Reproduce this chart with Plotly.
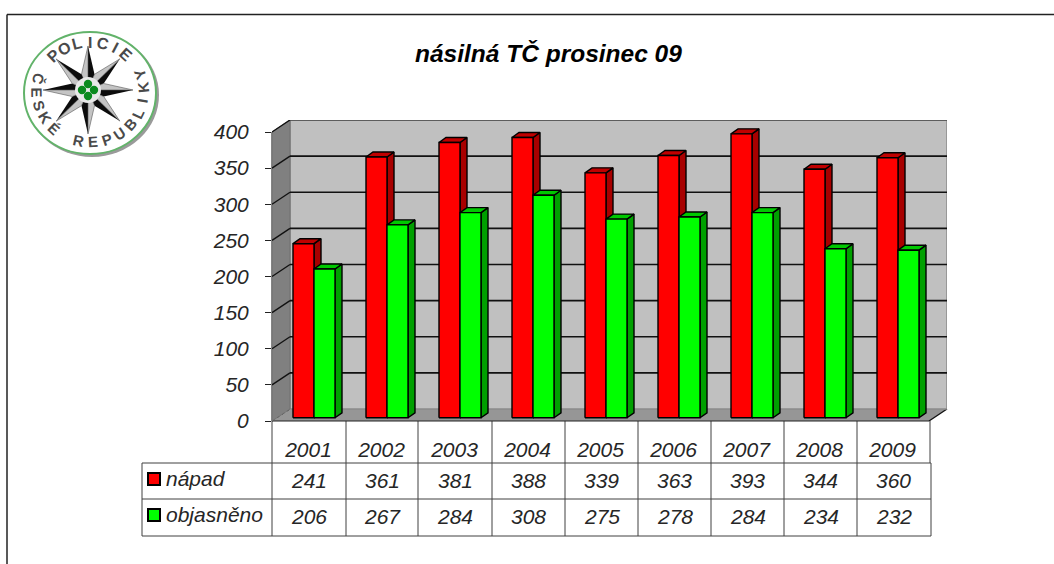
import math
import plotly.graph_objects as go

# ---- data ----
years = ["2001", "2002", "2003", "2004", "2005", "2006", "2007", "2008", "2009"]
napad = [241, 361, 381, 388, 339, 363, 393, 344, 360]
objasneno = [206, 267, 284, 308, 275, 278, 284, 234, 232]
y_ticks = [0, 50, 100, 150, 200, 250, 300, 350, 400]
title_text = "násilná TČ prosinec 09"
series_names = ["nápad", "objasněno"]

# ---- layout geometry (pixels of the page) ----
W, H = 1054, 564
L, R, T, B = 272, 947, 120, 421          # plot rectangle
PX_X = 73.0                              # px per category
PX_Y = 289 / 400                         # px per value unit
XMAX = (R - L) / PX_X
YMAX = (B - T) / PX_Y
WALL_DX, WALL_DY = 18 / PX_X, 12 / PX_Y  # depth of the chart box
BAR_DX, BAR_DY = 7 / PX_X, 5 / PX_Y      # depth of a bar
BASE = 3.2 / PX_Y                        # bar base above the front edge
BAR_W = 21 / PX_X
BAR_OFF = 21 / PX_X
FONT = "Liberation Sans"
INK = "#262626"


def px(x, y):
    return (x - L) / (R - L), (B - y) / (B - T)


def path(points):
    out = []
    for i, (x, y) in enumerate(points):
        a, b = px(x, y)
        out.append(("M" if i == 0 else "L") + f"{a:.5f},{b:.5f}")
    return " ".join(out) + " Z"


shapes, annos = [], []


def rect_d(points, fill, line=None, width=1):
    """filled polygon given in axis units"""
    d = " ".join(("M" if i == 0 else "L") + f"{x:.4f},{y:.4f}" for i, (x, y) in enumerate(points)) + " Z"
    shapes.append(dict(type="path", xref="x", yref="y", path=d, fillcolor=fill, layer="below",
                       line=dict(color=line or fill, width=width)))


def seg_p(x0, y0, x1, y1, color="#404040", width=1, dash="solid"):
    a0, b0 = px(x0, y0)
    a1, b1 = px(x1, y1)
    shapes.append(dict(type="line", xref="paper", yref="paper", x0=a0, y0=b0, x1=a1, y1=b1,
                       layer="below", line=dict(color=color, width=width, dash=dash)))


def poly_p(points, fill, line=None, width=0):
    shapes.append(dict(type="path", xref="paper", yref="paper", path=path(points), fillcolor=fill,
                       layer="below", line=dict(color=line or fill, width=width)))


def circle_p(cx, cy, rx, ry, fill, line=None, width=0):
    a0, b0 = px(cx - rx, cy + ry)
    a1, b1 = px(cx + rx, cy - ry)
    shapes.append(dict(type="circle", xref="paper", yref="paper", x0=a0, y0=b0, x1=a1, y1=b1,
                       fillcolor=fill, layer="below", line=dict(color=line or fill, width=width)))


def text_p(x, y, s, size=21, **kw):
    a, b = px(x, y)
    font = dict(family=FONT, size=size, color=kw.pop("color", INK), style=kw.pop("style", "italic"),
                weight=kw.pop("weight", 400))
    annos.append(dict(xref="paper", yref="paper", x=a, y=b, text=s, showarrow=False, font=font,
                      xanchor=kw.pop("xanchor", "center"), yanchor="middle",
                      textangle=kw.pop("textangle", 0)))


# ---- outer frame ----
seg_p(7, 14.5, W, 14.5, "#222222", 1.5)
seg_p(7, 14.5, 7, H, "#222222", 1.5)

# ---- 3D box ----
rect_d([(WALL_DX, WALL_DY), (XMAX, WALL_DY), (XMAX, YMAX), (WALL_DX, YMAX)], "#c0c0c0", "#8a8a8a", 1.5)
rect_d([(0, 0), (WALL_DX, WALL_DY), (WALL_DX, YMAX), (0, 400)], "#808080", "#707070", 1)
poly_p([(L, B), (L + 18, B - 12), (R, B - 12), (R - 18, B)], "#969696")
for t in y_ticks:
    if t == 0:
        continue
    yb = t + WALL_DY
    shapes.append(dict(type="line", xref="x", yref="y", x0=0, y0=t, x1=WALL_DX, y1=yb, layer="below",
                       line=dict(color="#111111", width=1.4)))
    shapes.append(dict(type="line", xref="x", yref="y", x0=WALL_DX, y0=yb, x1=XMAX, y1=yb, layer="below",
                       line=dict(color="#4a4a4a" if t == 400 else "#111111", width=1.6)))
seg_p(L, B, L + 18, B - 12, "#111111", 1, "dot")
seg_p(R - 18, B, R, B - 12, "#111111", 1.4)
seg_p(L, B, L, 132, "#333333", 1.2)


# ---- bars (drawn as polygons so that each series overlaps correctly) ----
def bars(values, offset, front, side, top):
    xs_f, ys_f, xs_s, ys_s, xs_t, ys_t = [], [], [], [], [], []
    for i, v in enumerate(values):
        x0 = i + offset
        x1 = x0 + BAR_W
        y0 = BASE
        y1 = BASE + v
        xs_f += [x0, x1, x1, x0, x0, None]
        ys_f += [y0, y0, y1, y1, y0, None]
        xs_s += [x1, x1 + BAR_DX, x1 + BAR_DX, x1, x1, None]
        ys_s += [y0, y0 + BAR_DY, y1 + BAR_DY, y1, y0, None]
        xs_t += [x0, x1, x1 + BAR_DX, x0 + BAR_DX, x0, None]
        ys_t += [y1, y1, y1 + BAR_DY, y1 + BAR_DY, y1, None]
    out = []
    for xs, ys, c in ((xs_s, ys_s, side), (xs_t, ys_t, top), (xs_f, ys_f, front)):
        out.append(go.Scatter(x=xs, y=ys, mode="lines", fill="toself", fillcolor=c,
                              line=dict(color="#000000", width=1.4), hoverinfo="skip", showlegend=False))
    return out


traces = bars(napad, BAR_OFF, "#ff0000", "#a80000", "#c00000") + \
    bars(objasneno, BAR_OFF + BAR_W, "#00ff00", "#00a000", "#00c800")

# ---- data table ----
table_col = "#404040"
ROW = [421, 463, 499, 536]
n = len(years)
edge = [272, 346, 418, 492, 565, 638, 711, 784, 857, 930]
for x in edge:
    seg_p(x, ROW[0], x, ROW[1], table_col)
for x in [142] + edge[:-1] + [931]:
    seg_p(x, ROW[1], x, ROW[3], table_col)
for r in ROW[1:]:
    seg_p(142, r, 931, r, table_col)
seg_p(L, B, R - 18, B, "#222222", 1.2)

for i in range(n):
    xc = (edge[i] + edge[i + 1]) / 2
    text_p(xc, 480, str(napad[i]))
    text_p(xc, 516, str(objasneno[i]))

for label, col, yc in zip(series_names, ["#ff0000", "#00ff00"], [479, 515]):
    poly_p([(148, yc - 6), (160, yc - 6), (160, yc + 6), (148, yc + 6)], col, "#000000", 2)
    text_p(164, yc - 1, label, xanchor="left")

# ---- title ----
text_p(548, 54, title_text, size=24.5, weight=700, color="#000000")

# ---- logo ----
CX, CY = 90, 93
circle_p(CX + 2, CY + 2, 67, 62, "#9a9a9a")
circle_p(CX, CY, 66, 61, "#ffffff", "#62b36a", 2)
SX, SY = 88, 90
for k in range(8):
    ang = k * math.pi / 4
    tip = (SX + 45 * math.sin(ang), SY - 44 * math.cos(ang))
    rv = 17
    right = (SX + rv * math.sin(ang + math.pi / 8), SY - rv * math.cos(ang + math.pi / 8))
    left = (SX + rv * math.sin(ang - math.pi / 8), SY - rv * math.cos(ang - math.pi / 8))
    poly_p([(SX, SY), tip, right], "#0c0c0c")
    poly_p([(SX, SY), left, tip], "#c4c4c4", "#555555", 0.6)
circle_p(SX, SY, 13, 13, "#e8e8e8")
for dx, dy in ((0, -6), (6, 0), (0, 6), (-6, 0)):
    circle_p(SX + dx, SY + dy, 4.2, 4.2, "#0a8a1e")

LOGO_R = 53
for i, ch in enumerate("POLICIE"):
    b = -43 + i * 85 / 6
    text_p(CX + LOGO_R * math.sin(math.radians(b)), CY - 1 - (LOGO_R - 3) * math.cos(math.radians(b)), ch,
           size=16, style="normal", weight=700, color="#4a4a4a", textangle=b)
for i, ch in enumerate("ČESKÉ REPUBLIKY"):
    if ch == " ":
        continue
    a = -105 + i * 216 / 14
    text_p(CX + LOGO_R * math.sin(math.radians(a)), CY - 1 + (LOGO_R - 3) * math.cos(math.radians(a)), ch,
           size=15, style="normal", weight=700, color="#4a4a4a", textangle=-a)

fig = go.Figure(traces)
fig.update_layout(
    width=W, height=H, autosize=False,
    margin=dict(l=L, r=W - R, t=T, b=H - B, pad=0),
    paper_bgcolor="#ffffff", plot_bgcolor="rgba(0,0,0,0)",
    showlegend=False, shapes=shapes, annotations=annos, hovermode=False,
    xaxis=dict(range=[0, XMAX], tickmode="array", tickvals=[i + 0.5 for i in range(n)], ticktext=years,
               showgrid=False, zeroline=False, showline=False, ticks="outside", ticklen=10,
               tickcolor="rgba(0,0,0,0)", tickfont=dict(family=FONT, size=21, color=INK, style="italic"),
               fixedrange=True),
    yaxis=dict(range=[0, YMAX], tickmode="array", tickvals=y_ticks, ticktext=[str(v) for v in y_ticks],
               showgrid=False, zeroline=False, showline=False, ticks="outside", ticklen=6, tickwidth=1.2,
               tickcolor="#222222", ticklabelstandoff=12,
               tickfont=dict(family=FONT, size=21, color=INK, style="italic"), fixedrange=True),
)
fig.write_html("out.html", config={"displayModeBar": False},
               post_script="document.body.style.margin='0';document.documentElement.style.overflow='hidden';")
